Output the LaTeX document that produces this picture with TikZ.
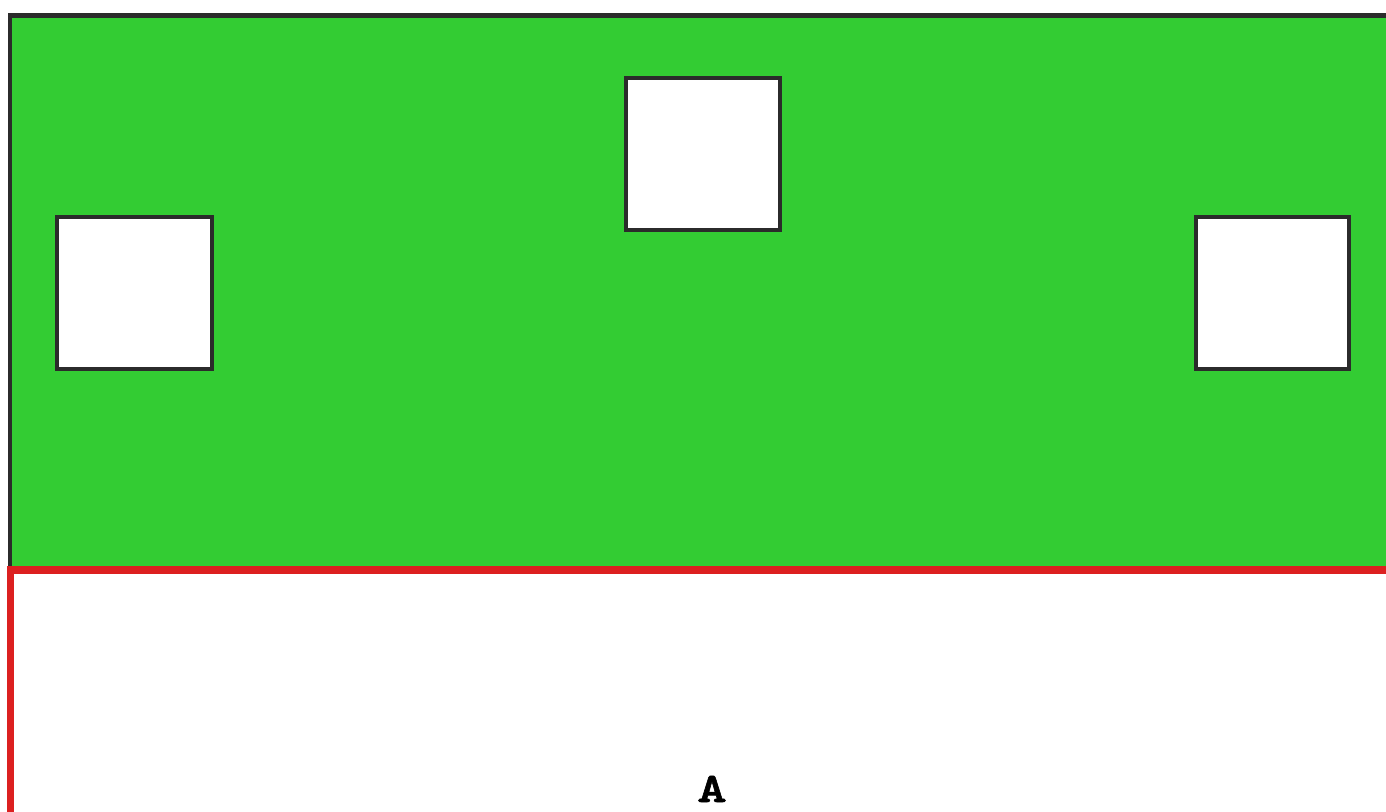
\documentclass[tikz,border=0pt]{standalone}
\usepackage{fontspec}
\newfontfamily\labelfont{lmmonolt10-bold.otf}[FakeStretch=1.35,FakeBold=1.5]
\definecolor{darkline}{HTML}{2B2B2B}
\definecolor{grass}{HTML}{33CC33}
\definecolor{redline}{HTML}{DC2020}
\begin{document}
\begin{tikzpicture}[x=1pt,y=-1pt,
  window/.style={draw=darkline,line width=4pt,fill=white},
  lbl/.style={font=\labelfont\fontsize{42}{42}\selectfont,inner sep=0pt,anchor=base,text=black}]
\useasboundingbox (0,0) rectangle (1386,811);
\draw[draw=darkline,line width=4.5pt,fill=grass] (10,15.5) rectangle (1420,570);
\draw[window] (57,217) rectangle (211.5,369);
\draw[window] (626,78) rectangle (780,230);
\draw[window] (1196,217) rectangle (1349,369);
\draw[draw=redline,line width=7.5pt,fill=white] (10.5,570) rectangle (1420,815.5);
\node[lbl] (a) at (712,802) {A};
\end{tikzpicture}
\end{document}
